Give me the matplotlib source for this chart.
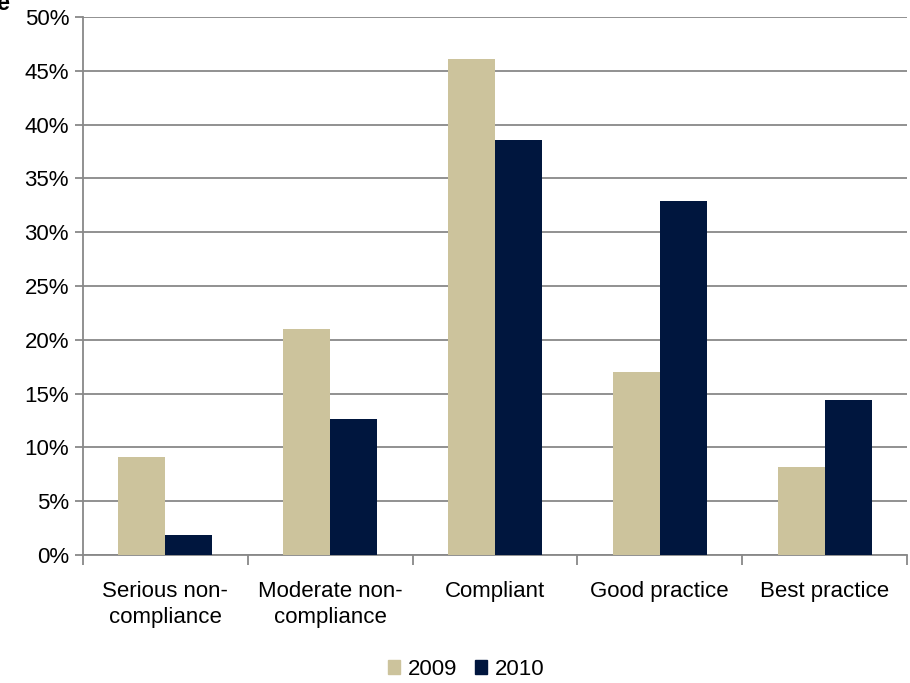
import matplotlib
matplotlib.use("Agg")
import matplotlib.pyplot as plt
import numpy as np
from matplotlib.ticker import FuncFormatter, MultipleLocator
from matplotlib.patches import Patch

categories = ["Serious non-\ncompliance", "Moderate non-\ncompliance", "Compliant",
              "Good practice", "Best practice"]
series_names = ["2009", "2010"]
values_2009 = [9.1, 21.0, 46.1, 17.0, 8.2]
values_2010 = [1.9, 12.6, 38.6, 32.9, 14.4]
colors = ["#CCC39C", "#00163E"]

plt.rcParams["font.family"] = ["Liberation Sans", "DejaVu Sans"]
fig = plt.figure(figsize=(9.1, 6.83), dpi=100)
ax = fig.add_axes([0.0912, 0.1874, 0.9055, 0.7877])

x = np.arange(len(categories))
w = 0.285
ax.bar(x - w / 2, values_2009, width=w, color=colors[0], zorder=3)
ax.bar(x + w / 2, values_2010, width=w, color=colors[1], zorder=3)

ax.set_xlim(-0.5, len(categories) - 0.5)
ax.set_ylim(0, 50)
ax.yaxis.set_major_locator(MultipleLocator(5))
ax.yaxis.set_major_formatter(FuncFormatter(lambda v, p: f"{v:.0f}%"))
ax.grid(axis="y", color="#888888", linewidth=1.3, zorder=0)

for s in ["top", "right"]:
    ax.spines[s].set_visible(False)
for s in ["left", "bottom"]:
    ax.spines[s].set_color("#888888")
    ax.spines[s].set_linewidth(1.3)

# category labels centered, tick marks on the category boundaries
ax.set_xticks(x)
ax.set_xticklabels(categories, fontsize=16, linespacing=1.3)
ax.tick_params(axis="x", length=0, pad=19)
ax.set_xticks(np.arange(-0.5, len(categories) + 0.5, 1), minor=True)
ax.tick_params(axis="x", which="minor", length=7, width=1.3, color="#888888")
ax.tick_params(axis="y", length=6, width=1.3, color="#888888", labelsize=16, pad=4)

handles = [Patch(color=c, label=n) for c, n in zip(colors, series_names)]
fig.legend(handles=handles, loc="center", bbox_to_anchor=(0.512, 0.02),
           ncol=2, frameon=False, fontsize=16, handlelength=0.55, handleheight=0.55,
           handletextpad=0.35, columnspacing=0.8, borderpad=0.1)

fig.text(-0.004, 0.995, "e", fontsize=17, fontweight="bold", va="center", ha="left")

fig.savefig("out.png", dpi=100)
